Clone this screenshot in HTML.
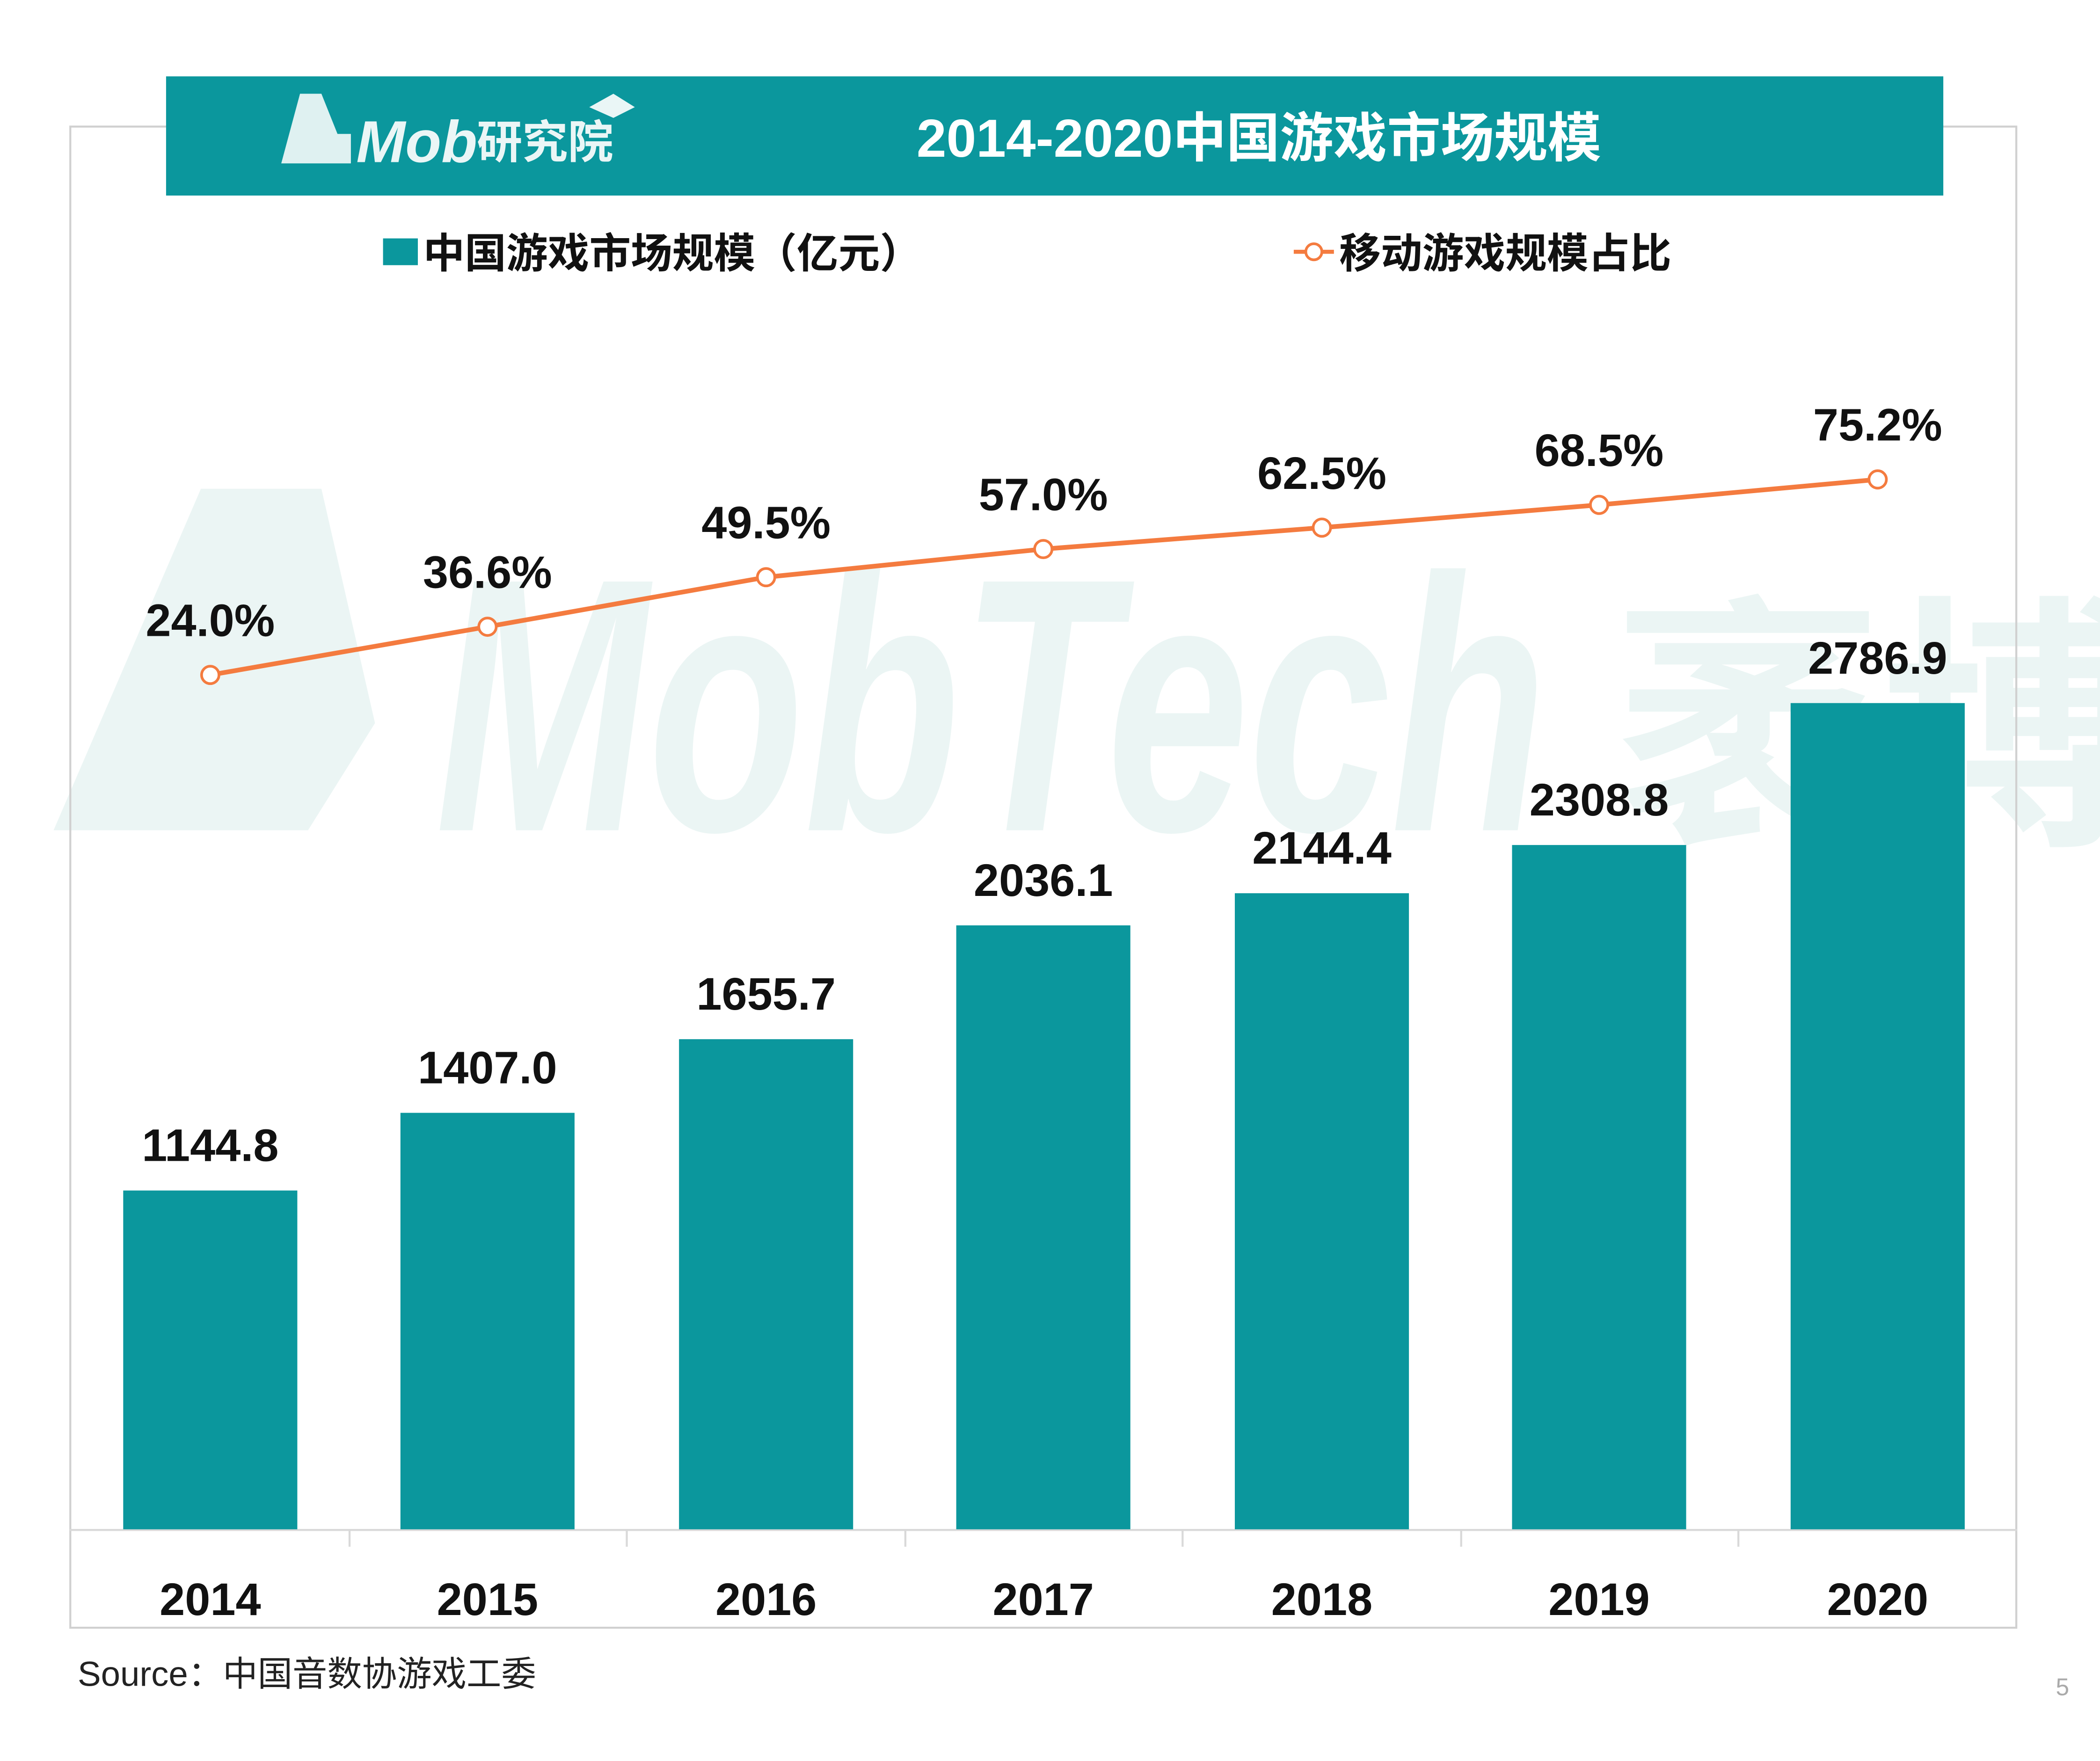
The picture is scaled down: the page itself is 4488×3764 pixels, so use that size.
<!DOCTYPE html>
<html><head><meta charset="utf-8"><style>
html,body{margin:0;padding:0;background:#fff;}
svg{display:block;}
text{font-family:"Liberation Sans","Noto Sans CJK SC",sans-serif;}
</style></head><body>
<svg width="4488" height="3764" viewBox="0 0 1568 1315" xmlns="http://www.w3.org/2000/svg">
<rect width="1568" height="1315" fill="#fff"/>
<!-- watermark -->
<g fill="#ebf5f4">
<polygon points="40,620 150,365 240,365 280,540 230,620"/>
<text x="325" y="620" font-size="270" font-weight="bold" font-style="italic" textLength="830" lengthAdjust="spacingAndGlyphs">MobTech</text>
<text x="1205" y="615" font-size="200" font-weight="bold">袤博</text>
</g>
<rect x="52.5" y="94.5" width="1453" height="1121" fill="none" stroke="#d0d0d0" stroke-width="1.5"/>
<rect x="124" y="57" width="1327" height="89" fill="#0b979d"/>
<!-- logo -->
<g fill="#dff1f1">
<polygon points="210,122 224,70 240,70 252,100 262,100 262,122"/>
<text x="266" y="121" font-size="44" font-weight="bold" font-style="italic" fill="#eaf6f6">Mob</text>
<text x="356" y="118" font-size="34" font-weight="bold" fill="#eaf6f6">研究院</text>
<polygon points="440,80 458,70 474,80 458,88" fill="#eaf6f6"/>
</g>
<text x="940" y="117" font-size="40" font-weight="bold" fill="#fff" text-anchor="middle">2014-2020中国游戏市场规模</text>
<!-- legend -->
<rect x="286" y="178" width="26" height="20" fill="#0b979d"/>
<text x="316" y="200" font-size="31" font-weight="bold" fill="#111">中国游戏市场规模（亿元）</text>
<line x1="966" y1="188" x2="996" y2="188" stroke="#f47b3f" stroke-width="3"/>
<circle cx="981" cy="188" r="6" fill="#fff" stroke="#f47b3f" stroke-width="2"/>
<text x="1000" y="200" font-size="31" font-weight="bold" fill="#111">移动游戏规模占比</text>
<!-- axis -->
<line x1="52" y1="1142.5" x2="1506" y2="1142.5" stroke="#d9d9d9" stroke-width="1.5"/>
<g stroke="#d9d9d9" stroke-width="1.5">
<line x1="261" y1="1142" x2="261" y2="1155"/><line x1="468" y1="1142" x2="468" y2="1155"/>
<line x1="676" y1="1142" x2="676" y2="1155"/><line x1="883" y1="1142" x2="883" y2="1155"/>
<line x1="1091" y1="1142" x2="1091" y2="1155"/><line x1="1298" y1="1142" x2="1298" y2="1155"/>
</g>
<!-- bars -->
<g fill="#0b979d">
<rect x="92" y="889" width="130" height="253"/>
<rect x="299" y="831" width="130" height="311"/>
<rect x="507" y="776" width="130" height="366"/>
<rect x="714" y="691" width="130" height="451"/>
<rect x="922" y="667" width="130" height="475"/>
<rect x="1129" y="631" width="130" height="511"/>
<rect x="1337" y="525" width="130" height="617"/>
</g>
<g font-size="34" font-weight="bold" fill="#111" text-anchor="middle">
<text x="157" y="867">1144.8</text>
<text x="364" y="809">1407.0</text>
<text x="572" y="754">1655.7</text>
<text x="779" y="669">2036.1</text>
<text x="987" y="645">2144.4</text>
<text x="1194" y="609">2308.8</text>
<text x="1402" y="503">2786.9</text>
<text x="157" y="1206">2014</text>
<text x="364" y="1206">2015</text>
<text x="572" y="1206">2016</text>
<text x="779" y="1206">2017</text>
<text x="987" y="1206">2018</text>
<text x="1194" y="1206">2019</text>
<text x="1402" y="1206">2020</text>
<text x="157" y="475">24.0%</text>
<text x="364" y="439">36.6%</text>
<text x="572" y="402">49.5%</text>
<text x="779" y="381">57.0%</text>
<text x="987" y="365">62.5%</text>
<text x="1194" y="348">68.5%</text>
<text x="1402" y="329">75.2%</text>
</g>
<polyline points="157,504 364,468 572,431 779,410 987,394 1194,377 1402,358" fill="none" stroke="#f47b3f" stroke-width="3.5"/>
<g fill="#fff" stroke="#f47b3f" stroke-width="2">
<circle cx="157" cy="504" r="6.5"/><circle cx="364" cy="468" r="6.5"/><circle cx="572" cy="431" r="6.5"/>
<circle cx="779" cy="410" r="6.5"/><circle cx="987" cy="394" r="6.5"/><circle cx="1194" cy="377" r="6.5"/>
<circle cx="1402" cy="358" r="6.5"/>
</g>
<text x="58" y="1259" font-size="26" fill="#222">Source：中国音数协游戏工委</text>
<text x="1535" y="1266" font-size="18" fill="#aaa">5</text>
</svg>
</body></html>
